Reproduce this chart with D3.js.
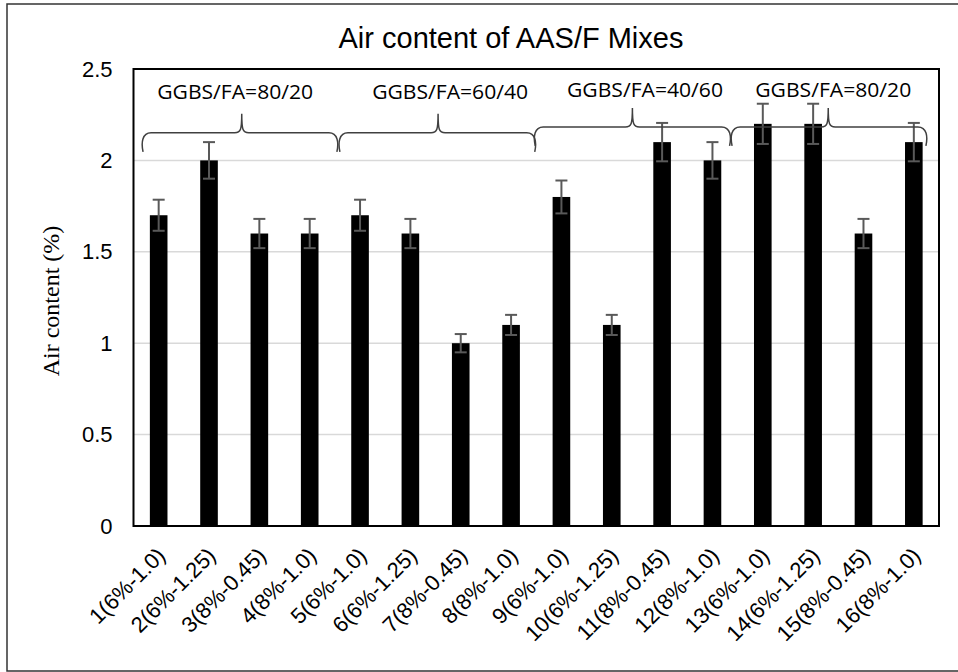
<!DOCTYPE html>
<html><head><meta charset="utf-8">
<script src="https://cdn.jsdelivr.net/npm/d3@7/dist/d3.min.js"></script>
<style>body{margin:0;background:#fff}svg{display:block}</style>
</head><body>
<script>
const categories = ["1(6%-1.0)","2(6%-1.25)","3(8%-0.45)","4(8%-1.0)","5(6%-1.0)","6(6%-1.25)","7(8%-0.45)","8(8%-1.0)","9(6%-1.0)","10(6%-1.25)","11(8%-0.45)","12(8%-1.0)","13(6%-1.0)","14(6%-1.25)","15(8%-0.45)","16(8%-1.0)"];
const values = [1.7,2.0,1.6,1.6,1.7,1.6,1.0,1.1,1.8,1.1,2.1,2.0,2.2,2.2,1.6,2.1];
const errors = [0.085,0.1,0.08,0.08,0.085,0.08,0.05,0.055,0.09,0.055,0.105,0.1,0.11,0.11,0.08,0.105];
const yTicks = [0,0.5,1,1.5,2,2.5];
const yTickLabels = ["0","0.5","1","1.5","2","2.5"];
const groupLabels = ["GGBS/FA=80/20","GGBS/FA=60/40","GGBS/FA=40/60","GGBS/FA=80/20"];
const groupLabelPos = [2.02,6.29,10.16,13.9];      // in category units
const groupLabelY = [2.336,2.336,2.349,2.349];     // in data units
const braceFrom = [0.19,4.1,7.98,11.89];
const braceTo = [4.04,7.97,11.84,15.74];
const braceTip = [2.15,6.05,9.91,13.8];
const braceLevel = [2.151,2.151,2.183,2.183];
const title = "Air content of AAS/F Mixes";
const yTitle = "Air content (%)";

const W = 958, H = 672;
const m = {left:133.5, right:939, top:69, bottom:526};
const svg = d3.select("body").append("svg").attr("width",W).attr("height",H);

svg.append("rect").attr("x",7).attr("y",4).attr("width",962).attr("height",667)
  .attr("fill","#fff").attr("stroke","#333").attr("stroke-width",1.5);

const x = d3.scaleBand().domain(categories).range([m.left,m.right]).paddingInner(0.65).paddingOuter(0.325);
const xc = d3.scaleLinear().domain([0,categories.length]).range([m.left,m.right]);
const y = d3.scaleLinear().domain([0,2.5]).range([m.bottom,m.top]);

// gridlines
svg.append("g").selectAll("line").data(yTicks.filter(t=>t>0 && t<2.5)).join("line")
  .attr("x1",m.left).attr("x2",m.right).attr("y1",d=>y(d)).attr("y2",d=>y(d))
  .attr("stroke","#d9d9d9").attr("stroke-width",1.5);

// y axis labels
const yAxis = d3.axisLeft(y).tickValues(yTicks).tickFormat((d,i)=>yTickLabels[i]).tickSize(0).tickPadding(21);
const gy = svg.append("g").attr("transform",`translate(${m.left},0)`).call(yAxis);
gy.select(".domain").remove();
gy.selectAll("text").attr("font-family","Liberation Sans, Arial, sans-serif").attr("font-size",22).attr("fill","#000");

// bars
svg.append("g").selectAll("rect").data(values).join("rect")
  .attr("x",(d,i)=>x(categories[i])).attr("width",x.bandwidth())
  .attr("y",d=>y(d)).attr("height",d=>y(0)-y(d)).attr("fill","#000");

// error bars
const eb = svg.append("g").attr("stroke","#595959").attr("stroke-width",2);
values.forEach((v,i)=>{
  const cx = x(categories[i]) + x.bandwidth()/2;
  eb.append("line").attr("x1",cx).attr("x2",cx).attr("y1",y(v+errors[i])).attr("y2",y(v-errors[i]));
  eb.append("line").attr("x1",cx-6).attr("x2",cx+6).attr("y1",y(v+errors[i])).attr("y2",y(v+errors[i]));
  eb.append("line").attr("x1",cx-6).attr("x2",cx+6).attr("y1",y(v-errors[i])).attr("y2",y(v-errors[i]));
});

// plot frame
svg.append("rect").attr("x",m.left).attr("y",m.top).attr("width",m.right-m.left).attr("height",m.bottom-m.top)
  .attr("fill","none").attr("stroke","#000").attr("stroke-width",2);

// x axis labels
const xAxis = d3.axisBottom(x).tickSize(0).tickPadding(0);
const gx = svg.append("g").attr("transform",`translate(0,${m.bottom})`).call(xAxis);
gx.select(".domain").remove();
gx.selectAll("text").attr("font-family","Liberation Sans, Arial, sans-serif").attr("font-size",22).attr("fill","#000")
  .attr("text-anchor","end").attr("dy",0).attr("y",0)
  .attr("transform","translate(8,31) rotate(-45)");

// braces
const bg = svg.append("g").attr("fill","none").attr("stroke","#404040").attr("stroke-width",1.5);
braceFrom.forEach((f,i)=>{
  const x0 = xc(f), x1 = xc(braceTo[i]), xt = xc(braceTip[i]);
  const yh = y(braceLevel[i]), yb = yh+19, yt = yh-19;
  const p = `M${x0},${yb} C${x0-2},${yb-9} ${x0-1},${yh} ${x0+8},${yh} L${xt-7},${yh} C${xt-1},${yh} ${xt},${yh-3} ${xt},${yt}`+
            ` C${xt},${yh-3} ${xt+1},${yh} ${xt+7},${yh} L${x1-8},${yh} C${x1+1},${yh} ${x1+2},${yb-9} ${x1},${yb}`;
  bg.append("path").attr("d",p);
});

// group labels
svg.append("g").selectAll("text").data(groupLabels).join("text")
  .attr("x",(d,i)=>xc(groupLabelPos[i])).attr("y",(d,i)=>y(groupLabelY[i]))
  .attr("text-anchor","middle").attr("font-family","Open Sans, Noto Sans, sans-serif").attr("font-size",20)
  .attr("textLength",156).attr("lengthAdjust","spacingAndGlyphs").attr("fill","#000").text(d=>d);

// title
svg.append("text").attr("x",511).attr("y",48).attr("text-anchor","middle")
  .attr("font-family","Liberation Sans, Arial, sans-serif").attr("font-size",29).attr("fill","#000").text(title);

// y title
svg.append("text").attr("transform","translate(59,301) rotate(-90)").attr("text-anchor","middle")
  .attr("font-family","Liberation Serif, Times New Roman, serif").attr("font-size",24).attr("fill","#000").text(yTitle);
</script>
</body></html>
